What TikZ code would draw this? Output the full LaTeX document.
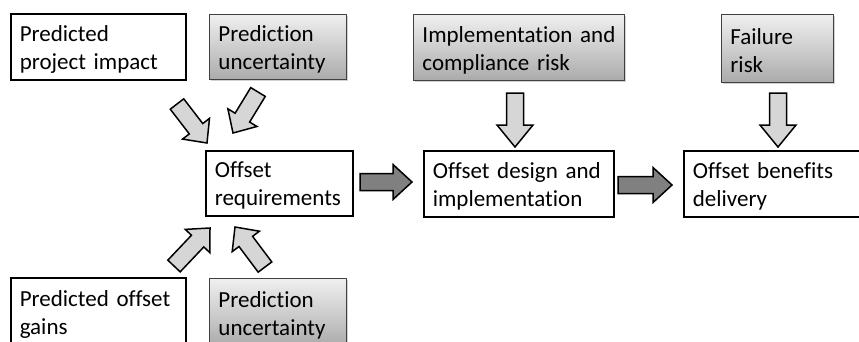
\documentclass[tikz,border=0pt]{standalone}
\usepackage{fontspec}
\setmainfont[RawFeature={-liga;-clig}]{Carlito}
\usetikzlibrary{calc,shadows}
\newcommand\blockarr[6]{%
  \coordinate (ha) at ($(#2)!#5!(#1)$);
  \filldraw[arrline, fill=#6]
    ($(#1)!#3!90:(#2)$) -- ($(ha)!#3!90:(#2)$) -- ($(ha)!#4!90:(#2)$) -- (#2)
    -- ($(ha)!#4!-90:(#2)$) -- ($(ha)!#3!-90:(#2)$) -- ($(#1)!#3!-90:(#2)$) -- cycle;
}
\newcommand\tprule{\rule{0pt}{21pt}}
\definecolor{lightarr}{HTML}{D6D6D6}
\definecolor{darkarr}{HTML}{808080}
\begin{document}
\begin{tikzpicture}[x=1pt,y=-1pt,
  every node/.style={font=\fontsize{23}{28}\selectfont},
  basebox/.style={anchor=north west, inner xsep=9pt, inner ysep=0pt, align=left},
  wbox/.style={basebox, draw=black, line width=1.6pt, fill=white},
  gbox/.style={basebox, draw=black!75, line width=0.9pt, top color=black!6, bottom color=black!33,
    drop shadow={opacity=0.35, shadow xshift=1.2pt, shadow yshift=-1.2pt}},
  arrline/.style={draw=black, line width=1.5pt, line join=miter}]
\useasboundingbox (0,0) rectangle (859,341);
\clip (0,0) rectangle (859,341);
\fill[white] (0,0) rectangle (859,341);

\node[wbox, text width=157pt, minimum height=66pt] (ppi) at (10,13) {\tprule Predicted\\project impact};
\node[gbox, text width=119pt, minimum height=65pt] (pua) at (209,14) {\tprule Prediction\\uncertainty};
\node[gbox, text width=193pt, minimum height=66pt] (icr) at (413,14) {\tprule Implementation and\\compliance risk};
\node[gbox, text width=94pt, minimum height=68pt] (fr) at (721,14) {\tprule Failure\\risk};
\node[wbox, text width=129pt, minimum height=65pt] (oreq) at (205,150) {\tprule Offset\\requirements};
\node[wbox, text width=172pt, minimum height=66pt] (odi) at (423,150) {\tprule Offset design and\\implementation};
\node[wbox, text width=174pt, minimum height=66pt] (obd) at (683,150) {\tprule Offset benefits\\delivery};
\node[wbox, text width=157pt, minimum height=69pt] (pog) at (10,277) {\tprule Predicted offset\\gains};
\node[gbox, text width=119pt, minimum height=68pt] (pub) at (209,278) {\tprule Prediction\\uncertainty};

% arrow end points
\coordinate (a1s) at (177,104); \coordinate (a1e) at (207,143);
\coordinate (a2s) at (258,92);  \coordinate (a2e) at (233,133);
\coordinate (a3s) at (174,266); \coordinate (a3e) at (210,228);
\coordinate (a4s) at (265,267); \coordinate (a4e) at (235,227);
\coordinate (h1s) at (360,182); \coordinate (h1e) at (412,182);
\coordinate (h2s) at (618,185); \coordinate (h2e) at (672,185);
\coordinate (d1s) at (515,93);  \coordinate (d1e) at (515,147);
\coordinate (d2s) at (778,93);  \coordinate (d2e) at (778,147);

\blockarr{a1s}{a1e}{8.5pt}{17pt}{18pt}{lightarr}
\blockarr{a2s}{a2e}{8.5pt}{17pt}{18pt}{lightarr}
\blockarr{a3s}{a3e}{8.5pt}{17pt}{18pt}{lightarr}
\blockarr{a4s}{a4e}{8.5pt}{17pt}{18pt}{lightarr}
\blockarr{h1s}{h1e}{8.5pt}{17.5pt}{19pt}{darkarr}
\blockarr{h2s}{h2e}{8.5pt}{17.5pt}{19pt}{darkarr}
\blockarr{d1s}{d1e}{8.5pt}{18pt}{22pt}{lightarr}
\blockarr{d2s}{d2e}{8.5pt}{18pt}{22pt}{lightarr}
\end{tikzpicture}
\end{document}
